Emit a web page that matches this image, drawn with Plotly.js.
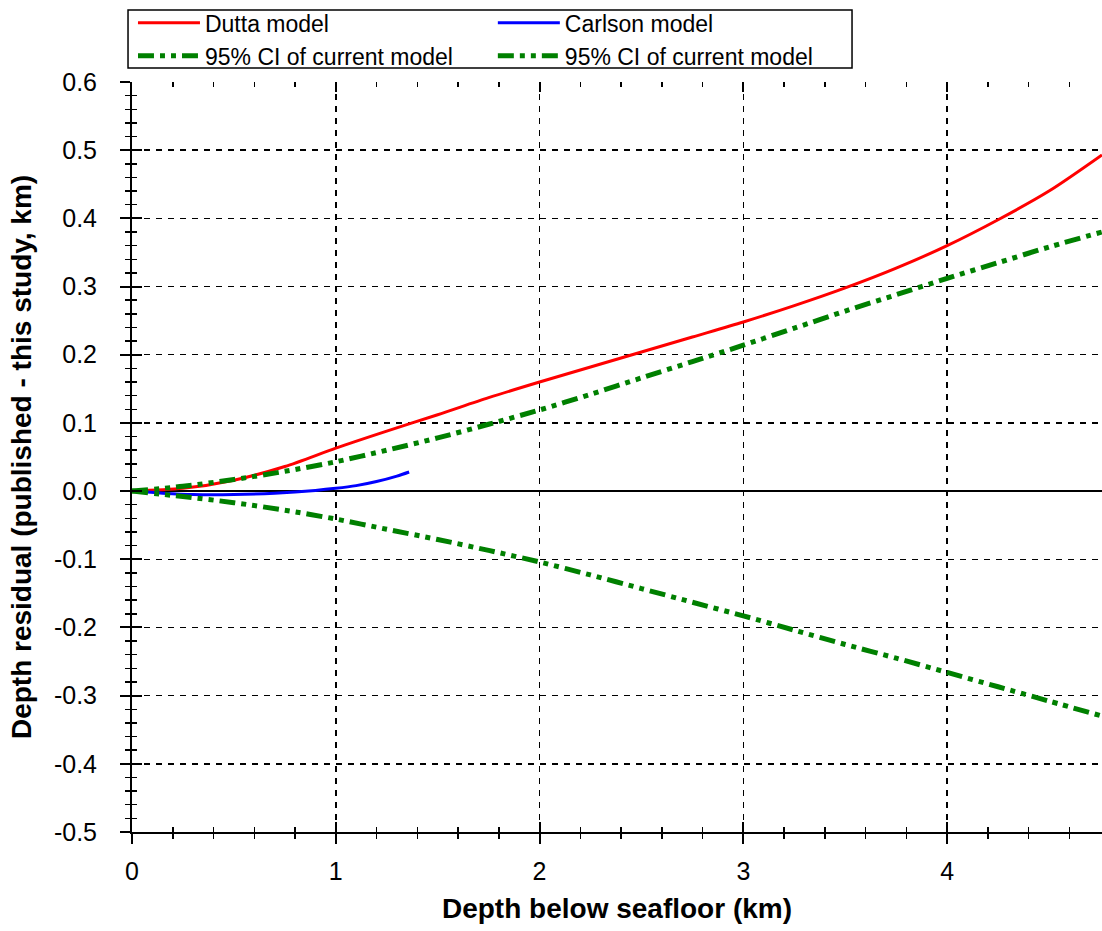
<!DOCTYPE html>
<html>
<head>
<meta charset="utf-8">
<script src="https://cdn.plot.ly/plotly-3.0.1.min.js"></script>
<style>html,body{margin:0;padding:0;background:#fff;}#chart{width:1102px;height:931px;}</style>
</head>
<body>
<div id="chart"></div>
<script>
// Data
var depthKm = [0,0.25,0.5,0.75,1,1.25,1.5,1.75,2,2.25,2.5,2.75,3,3.25,3.5,3.75,4,4.25,4.5,4.76];
var duttaResidual = [0,0.004,0.016,0.036,0.063,0.088,0.112,0.137,0.16,0.182,0.204,0.226,0.248,0.272,0.298,0.327,0.36,0.398,0.44,0.493];
var ciUpper = [0,0.007,0.017,0.029,0.043,0.06,0.078,0.098,0.119,0.142,0.166,0.19,0.214,0.239,0.264,0.288,0.312,0.335,0.358,0.38];
var ciLower = [0,-0.008,-0.017,-0.028,-0.041,-0.056,-0.071,-0.087,-0.104,-0.123,-0.143,-0.163,-0.183,-0.204,-0.225,-0.245,-0.266,-0.287,-0.308,-0.33];
var carlsonDepth = [0,0.15,0.3,0.5,0.7,0.9,1.0,1.1,1.2,1.3,1.36];
var carlsonResidual = [0,-0.003,-0.005,-0.005,-0.003,0.001,0.004,0.008,0.014,0.022,0.028];
var yTickVals = [-0.5,-0.4,-0.3,-0.2,-0.1,0,0.1,0.2,0.3,0.4,0.5,0.6];
var yTickText = ["-0.5","-0.4","-0.3","-0.2","-0.1","0.0","0.1","0.2","0.3","0.4","0.5","0.6"];
var xTickVals = [0,1,2,3,4];
var xTickText = ["0","1","2","3","4"];
var seriesNames = ["Dutta model","Carlson model","95% CI of current model","95% CI of current model"];

var FONT = "Liberation Sans, Arial, sans-serif";
var ciDash = "16px,6px,5px,6px,5px,6px";

var traces = [
  {x: depthKm, y: duttaResidual, name: seriesNames[0], legend: "legend", legendrank: 1, mode: "lines", line: {color: "#ff0000", width: 3, shape: "spline", smoothing: 0.8}},
  {x: carlsonDepth, y: carlsonResidual, name: seriesNames[1], legend: "legend2", legendrank: 1, mode: "lines", line: {color: "#0000ff", width: 3, shape: "spline", smoothing: 0.8}},
  {x: depthKm, y: ciUpper, name: seriesNames[2], legend: "legend", legendrank: 2, mode: "lines", line: {color: "#008000", width: 5, dash: ciDash, shape: "spline", smoothing: 0.8}},
  {x: depthKm, y: ciLower, name: seriesNames[3], legend: "legend2", legendrank: 2, mode: "lines", line: {color: "#008000", width: 5, dash: ciDash, shape: "spline", smoothing: 0.8}},
  {x: [], y: [], xaxis: "x2", yaxis: "y2", showlegend: false, hoverinfo: "skip"},
  {x: [], y: [], xaxis: "x3", yaxis: "y3", showlegend: false, hoverinfo: "skip"}
];

var XR = [0, 4.76], YR = [-0.5, 0.6];
var tickFont = {family: FONT, size: 25, color: "#000"};
var titleFont = {family: FONT, size: 28, color: "#000"};
var legendFont = {family: FONT, size: 23, color: "#000"};

var legendCommon = {
  orientation: "v", xanchor: "left", yanchor: "top",
  bgcolor: "rgba(0,0,0,0)", borderwidth: 0,
  font: legendFont, tracegroupgap: 0, itemwidth: 62, traceorder: "normal"
};

var layout = {
  width: 1102, height: 931,
  margin: {l: 132, r: 0, t: 82, b: 99, pad: 0},
  paper_bgcolor: "#fff", plot_bgcolor: "#fff",
  font: {family: FONT, color: "#000"},
  showlegend: true,
  legend: Object.assign({}, legendCommon, {x: 0.001, y: 1.1075}),
  legend2: Object.assign({}, legendCommon, {x: 0.372, y: 1.1075}),
  shapes: [{
    type: "rect", xref: "paper", yref: "paper",
    x0: -0.0041, x1: 0.7423, y0: 1.0187, y1: 1.096,
    line: {color: "#000", width: 1.5}, fillcolor: "#fff", layer: "above"
  }],
  xaxis: {
    range: XR, tickvals: xTickVals, ticktext: xTickText,
    ticks: "outside", ticklen: 10, tickwidth: 2, tickcolor: "#000",
    minor: {dtick: 0.2, ticks: "outside", ticklen: 5, tickwidth: 1.5, tickcolor: "#000", showgrid: false},
    showline: true, linecolor: "#000", linewidth: 2,
    showgrid: true, gridcolor: "#000", gridwidth: 1.5, griddash: "6px,6px",
    zeroline: false, tickfont: tickFont, ticklabelstandoff: 6,
    title: {text: "<b>Depth below seafloor (km)</b>", font: titleFont, standoff: 14}
  },
  yaxis: {
    range: YR, tickvals: yTickVals, ticktext: yTickText,
    ticks: "outside", ticklen: 10, tickwidth: 2, tickcolor: "#000",
    minor: {dtick: 0.02, ticks: "outside", ticklen: 5, tickwidth: 1.5, tickcolor: "#000", showgrid: false},
    showline: true, linecolor: "#000", linewidth: 2,
    showgrid: true, gridcolor: "#000", gridwidth: 1.5, griddash: "6px,6px",
    zeroline: true, zerolinecolor: "#000", zerolinewidth: 1.5,
    tickfont: tickFont, ticklabelstandoff: 18,
    title: {text: "<b>Depth residual (published - this study, km)</b>", font: titleFont, standoff: 14}
  },
  xaxis2: {
    overlaying: "x", matches: "x", range: XR, side: "bottom", anchor: "y2",
    tickvals: xTickVals, showticklabels: false,
    ticks: "inside", ticklen: 10, tickwidth: 2, tickcolor: "#000",
    minor: {dtick: 0.2, ticks: "inside", ticklen: 5, tickwidth: 1.5, tickcolor: "#000"},
    showgrid: false, zeroline: false, showline: false
  },
  yaxis2: {
    overlaying: "y", matches: "y", range: YR, side: "left", anchor: "x2",
    tickvals: yTickVals, showticklabels: false,
    ticks: "inside", ticklen: 10, tickwidth: 2, tickcolor: "#000",
    minor: {dtick: 0.02, ticks: "inside", ticklen: 5, tickwidth: 1.5, tickcolor: "#000"},
    showgrid: false, zeroline: false, showline: false
  },
  xaxis3: {
    overlaying: "x", matches: "x", range: XR, side: "top", anchor: "y3",
    tickvals: xTickVals, showticklabels: false,
    ticks: "inside", ticklen: 10, tickwidth: 2, tickcolor: "#000",
    minor: {dtick: 0.2, ticks: "inside", ticklen: 5, tickwidth: 1.5, tickcolor: "#000"},
    showgrid: false, zeroline: false, showline: false
  },
  yaxis3: {
    overlaying: "y", matches: "y", range: YR, side: "left", anchor: "x3",
    showticklabels: false, ticks: "", showgrid: false, zeroline: false, showline: false
  }
};

Plotly.newPlot("chart", traces, layout, {staticPlot: true, displayModeBar: false});
</script>
</body>
</html>
